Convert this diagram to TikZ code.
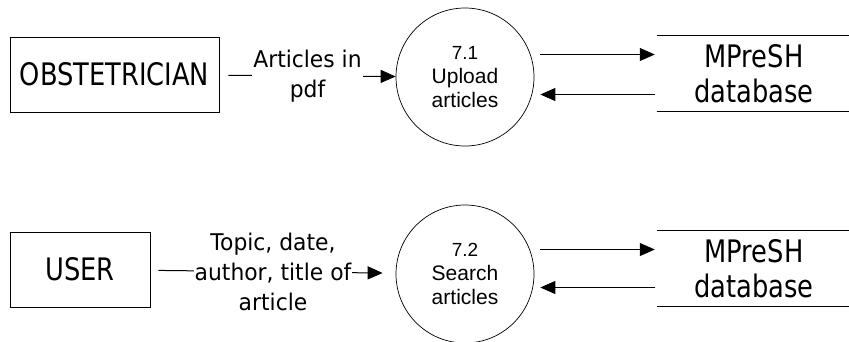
\documentclass[tikz,border=0pt]{standalone}
\usepackage{fontspec}
\usepackage{tikz}
\usetikzlibrary{arrows.meta, positioning}
\newfontfamily\dfdfont[FakeStretch=0.83]{DejaVu Sans}
\newfontfamily\lblfont[FakeStretch=0.95]{DejaVu Sans}
\newfontfamily\procfont{Liberation Sans}

\begin{document}
\begin{tikzpicture}[x=1pt, y=-1pt,
  entity/.style = {draw, line width=0.7pt, inner sep=0pt, minimum height=75pt, font=\dfdfont\fontsize{31}{36}\selectfont},
  proc/.style = {draw, circle, line width=0.7pt, minimum size=138pt, inner sep=0pt, align=center, font=\procfont\fontsize{21}{24}\selectfont},
  store/.style = {inner sep=0pt, minimum width=194pt, minimum height=75pt, align=center, font=\dfdfont\fontsize{31}{35}\selectfont},
  lbl/.style = {fill=white, inner sep=1pt, align=center, font=\lblfont\fontsize{23}{30}\selectfont},
  flow/.style = {-{Triangle[length=15pt, width=13pt]}, line width=1pt}]
\useasboundingbox (0,0) rectangle (849,341);

% upper process
\node[entity, minimum width=209pt] (obst) at (114.5,74.5) {OBSTETRICIAN};
\node[proc] (upload) at (465,77) {\fontsize{19}{24}\selectfont 7.1\\Upload\\articles};
\node[store] (db1) at (754,73.5) {MPreSH\\database};
\draw[line width=0.7pt] (db1.north west) -- (db1.north east) (db1.south west) -- (db1.south east);
\coordinate[above=19pt of db1.west] (db1in);
\coordinate[below=21pt of db1.west] (db1out);

\draw[flow, shorten <=9pt] (obst) -- node[lbl] {Articles in\\pdf} (upload);
\draw[flow, shorten <=6pt, shorten >=2pt] (upload.east |- db1in) -- (db1in);
\draw[flow, shorten <=2pt, shorten >=6pt] (db1out) -- (upload.east |- db1out);

% lower process
\node[entity, minimum width=140pt] (user) at (80,269.5) {USER};
\node[proc] (search) at (465,274) {\fontsize{19}{24}\selectfont 7.2\\Search\\articles};
\node[store] (db2) at (754,268.5) {MPreSH\\database};
\draw[line width=0.7pt] (db2.north west) -- (db2.north east) (db2.south west) -- (db2.south east);
\coordinate[above=19pt of db2.west] (db2in);
\coordinate[below=19pt of db2.west] (db2out);

\draw[flow, shorten <=8pt, shorten >=13pt] (user) -- node[lbl] {Topic, date,\\author, title of\\article} (search);
\draw[flow, shorten <=6pt, shorten >=2pt] (search.east |- db2in) -- (db2in);
\draw[flow, shorten <=2pt, shorten >=6pt] (db2out) -- (search.east |- db2out);
\end{tikzpicture}
\end{document}
